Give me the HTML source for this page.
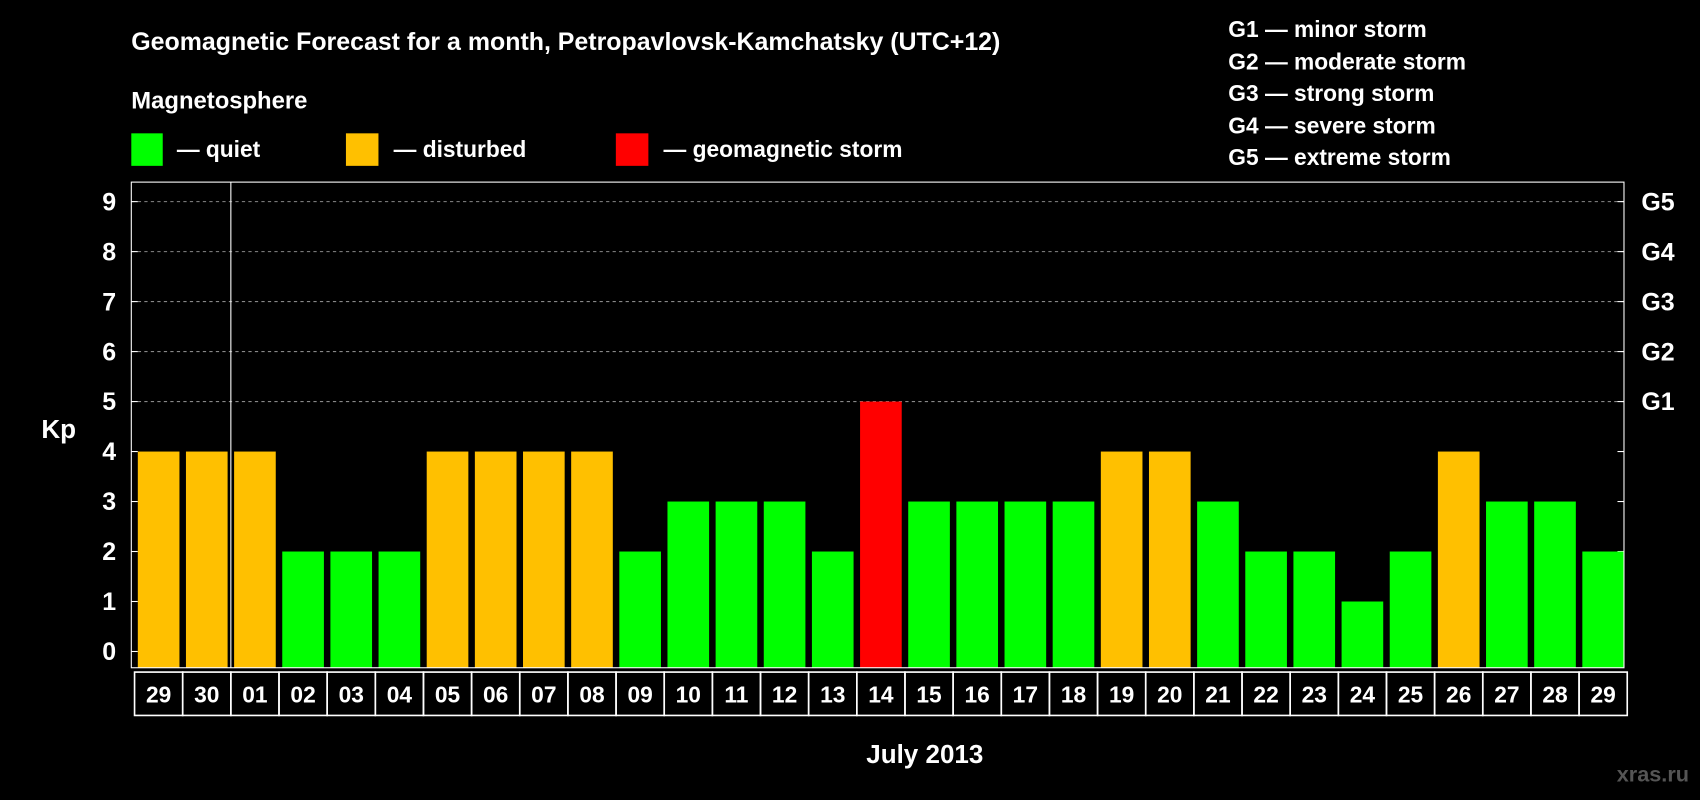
<!DOCTYPE html>
<html><head><meta charset="utf-8"><style>
html,body{margin:0;padding:0;background:#000;width:1700px;height:800px;overflow:hidden}
svg{display:block}
text{font-family:"Liberation Sans",Arial,sans-serif;font-weight:bold;fill:#fff}
</style></head><body>
<svg id="c" width="1700" height="800" viewBox="0 0 1568 738" xmlns="http://www.w3.org/2000/svg">
<rect width="1568" height="738" fill="#000"/>
<text x="121" y="46" font-size="23">Geomagnetic Forecast for a month, Petropavlovsk-Kamchatsky (UTC+12)</text>
<text x="121" y="100" font-size="22">Magnetosphere</text>
<g><rect x="121" y="123" width="29" height="30" fill="#00ff00"/><text x="163" y="145" font-size="21">— quiet</text></g>
<g><rect x="319" y="123" width="30" height="30" fill="#ffc000"/><text x="363" y="145" font-size="21">— disturbed</text></g>
<g><rect x="568" y="123" width="30" height="30" fill="#ff0000"/><text x="612" y="145" font-size="21">— geomagnetic storm</text></g>
<g font-size="21">
<text x="1133" y="34">G1 — minor storm</text>
<text x="1133" y="64">G2 — moderate storm</text>
<text x="1133" y="93">G3 — strong storm</text>
<text x="1133" y="123">G4 — severe storm</text>
<text x="1133" y="152">G5 — extreme storm</text>
</g>
<text x="38" y="404" font-size="24">Kp</text>
<text x="853" y="704" font-size="24" text-anchor="middle">July 2013</text>
<text x="1558" y="721" font-size="20" text-anchor="end" style="fill:#555">xras.ru</text>
<g id="plot"></g>
</svg>
<script>
const days=["29","30","01","02","03","04","05","06","07","08","09","10","11","12","13","14","15","16","17","18","19","20","21","22","23","24","25","26","27","28","29"];
const kp=[4,4,4,2,2,2,4,4,4,4,2,3,3,3,2,5,3,3,3,3,4,4,3,2,2,1,2,4,3,3,2];
const yTicks=[0,1,2,3,4,5,6,7,8,9];
const gLabels=["","","","","","G1","G2","G3","G4","G5"];
const NS="http://www.w3.org/2000/svg";
const L=121,R=1498,T=168,B=616;
const slot=(R-L)/days.length;
function y(v){return 601-v*(601-186)/9;}
function xs(i){return L+i*slot;}
const g=document.getElementById('plot');
function mk(tag,attrs){const e=document.createElementNS(NS,tag);for(const k in attrs)e.setAttribute(k,attrs[k]);g.appendChild(e);return e;}
function col(v){return v>=5?"#ff0000":(v>=4?"#ffc000":"#00ff00");}
yTicks.forEach(v=>{
  if(v>=5){const l=mk('line',{x1:L,x2:R,y1:y(v),y2:y(v),stroke:'#888','stroke-dasharray':'3,3'});
  
  }
  const t1=mk('line',{x1:L,x2:L+6,y1:y(v),y2:y(v),stroke:'#fff'});
  
  
  const t2=mk('line',{x1:R-6,x2:R,y1:y(v),y2:y(v),stroke:'#fff'});
  
  
  const lb=mk('text',{x:107,y:y(v)+8,'font-size':23,'text-anchor':'end'});lb.textContent=v;
  
  
  if(gLabels[v]){const gl=mk('text',{x:1514,y:y(v)+8,'font-size':23});gl.textContent=gLabels[v];
  
  }
});
kp.forEach((v,i)=>{
  const b=mk('rect',{x:xs(i)+6,y:y(v),width:slot-6,height:B-y(v),fill:col(v)});
  
  
});
const fr=mk('rect',{x:L,y:T,width:R-L,height:B-T,fill:'none',stroke:'#fff','stroke-width':1});


const sep=mk('line',{x1:xs(2)+3,x2:xs(2)+3,y1:T,y2:B,stroke:'#fff'});


days.forEach((d,i)=>{
  const c=mk('rect',{x:xs(i)+3,y:620,width:slot,height:40,fill:'none',stroke:'#fff','stroke-width':1.5});
  
  
  const t=mk('text',{x:xs(i)+3+slot/2,y:648,'font-size':21,'text-anchor':'middle'});t.textContent=d;
  
  
});
</script>
</body></html>
